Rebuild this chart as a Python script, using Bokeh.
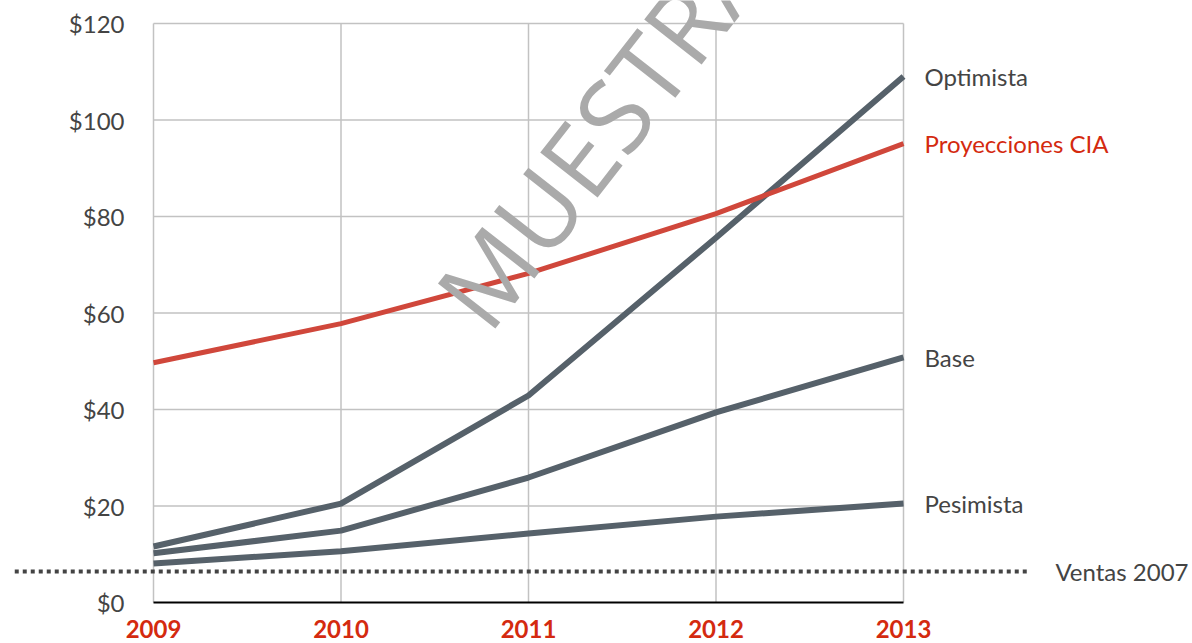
from bokeh.plotting import figure
from bokeh.models import Range1d
from bokeh.core.properties import value
from bokeh.embed import file_html
from bokeh.resources import INLINE

# ---- data ----
years = [2009, 2010, 2011, 2012, 2013]
year_labels = ["2009", "2010", "2011", "2012", "2013"]
cia = [49.7, 57.8, 68.2, 80.6, 95.1]
optimista = [11.6, 20.5, 42.9, 75.6, 109.0]
base = [10.2, 14.9, 25.9, 39.4, 50.8]
pesimista = [8.1, 10.6, 14.3, 17.8, 20.5]
ventas_2007 = 6.4
y_ticks = [0, 20, 40, 60, 80, 100, 120]
y_tick_labels = ["$0", "$20", "$40", "$60", "$80", "$100", "$120"]
series_names = ["Optimista", "Proyecciones CIA", "Base", "Pesimista"]
ventas_label = "Ventas 2007"
watermark = "MUESTRA"

# ---- styles ----
FONT = value("Lato")
GRAY_LINE = "#56616a"
RED_LINE = "#d0473b"
TEXT_GRAY = "#444444"
RED_TEXT = "#d42a0f"
GRID = "#c2c2c2"

x0, x1 = years[0], years[-1]
y0, y1 = y_ticks[0], y_ticks[-1]

p = figure(width=1192, height=643, output_backend="svg", toolbar_location=None,
           x_range=Range1d(2008.184, 2014.5413), y_range=Range1d(-8.497, 124.77),
           min_border=0, outline_line_color=None)
p.axis.visible = False
p.grid.visible = False
p.background_fill_color = "white"
p.border_fill_color = "white"

# grid lines (within the plot area)
p.segment(x0=[x0] * len(y_ticks[1:]), y0=y_ticks[1:], x1=[x1] * len(y_ticks[1:]), y1=y_ticks[1:],
          line_color=GRID, line_width=1.5)
p.segment(x0=years, y0=[y0] * len(years), x1=years, y1=[y1] * len(years),
          line_color=GRID, line_width=1.5)
# bottom axis line
p.segment(x0=[x0], y0=[y0], x1=[x1], y1=[y0], line_color="black", line_width=2)

# reference line: Ventas 2007
p.segment(x0=[2008.26], y0=[ventas_2007], x1=[2013.66], y1=[ventas_2007],
          line_color="#444444", line_width=4, line_dash="4 4")

# series lines
for ys in (optimista, base, pesimista):
    p.line(years, ys, line_color=GRAY_LINE, line_width=6, line_join="round")
p.line(years, cia, line_color=RED_LINE, line_width=5, line_join="round")

# y tick labels
p.text(x=[x0] * len(y_ticks), y=y_ticks, text=y_tick_labels, x_offset=-29,
       text_align="right", text_baseline="middle", text_font=FONT,
       text_font_size="24px", text_color=TEXT_GRAY)
# x tick labels
p.text(x=years, y=[-5.5] * len(years), text=year_labels, text_align="center",
       text_baseline="middle", text_font=FONT, text_font_size="24px",
       text_font_style="bold", text_color=RED_TEXT)

# series end labels
ends = [optimista[-1], cia[-1], base[-1], pesimista[-1]]
colors = [TEXT_GRAY, RED_TEXT, TEXT_GRAY, TEXT_GRAY]
p.text(x=[x1] * 4, y=ends, text=series_names, x_offset=21, text_align="left",
       text_baseline="middle", text_font=FONT, text_font_size="24px", text_color=colors)
p.text(x=[2013.81], y=[ventas_2007], text=[ventas_label], text_align="left",
       text_baseline="middle", text_font=FONT, text_font_size="24px", text_color=TEXT_GRAY)

# watermark
p.text(x=[2011.384], y=[98.0], text=[watermark], angle=0.9076, text_align="center",
       text_baseline="alphabetic", text_font=value("Open Sans"), text_font_size="102px",
       text_color="#aaaaaa")

open("out.html", "w").write(file_html(p, INLINE))
